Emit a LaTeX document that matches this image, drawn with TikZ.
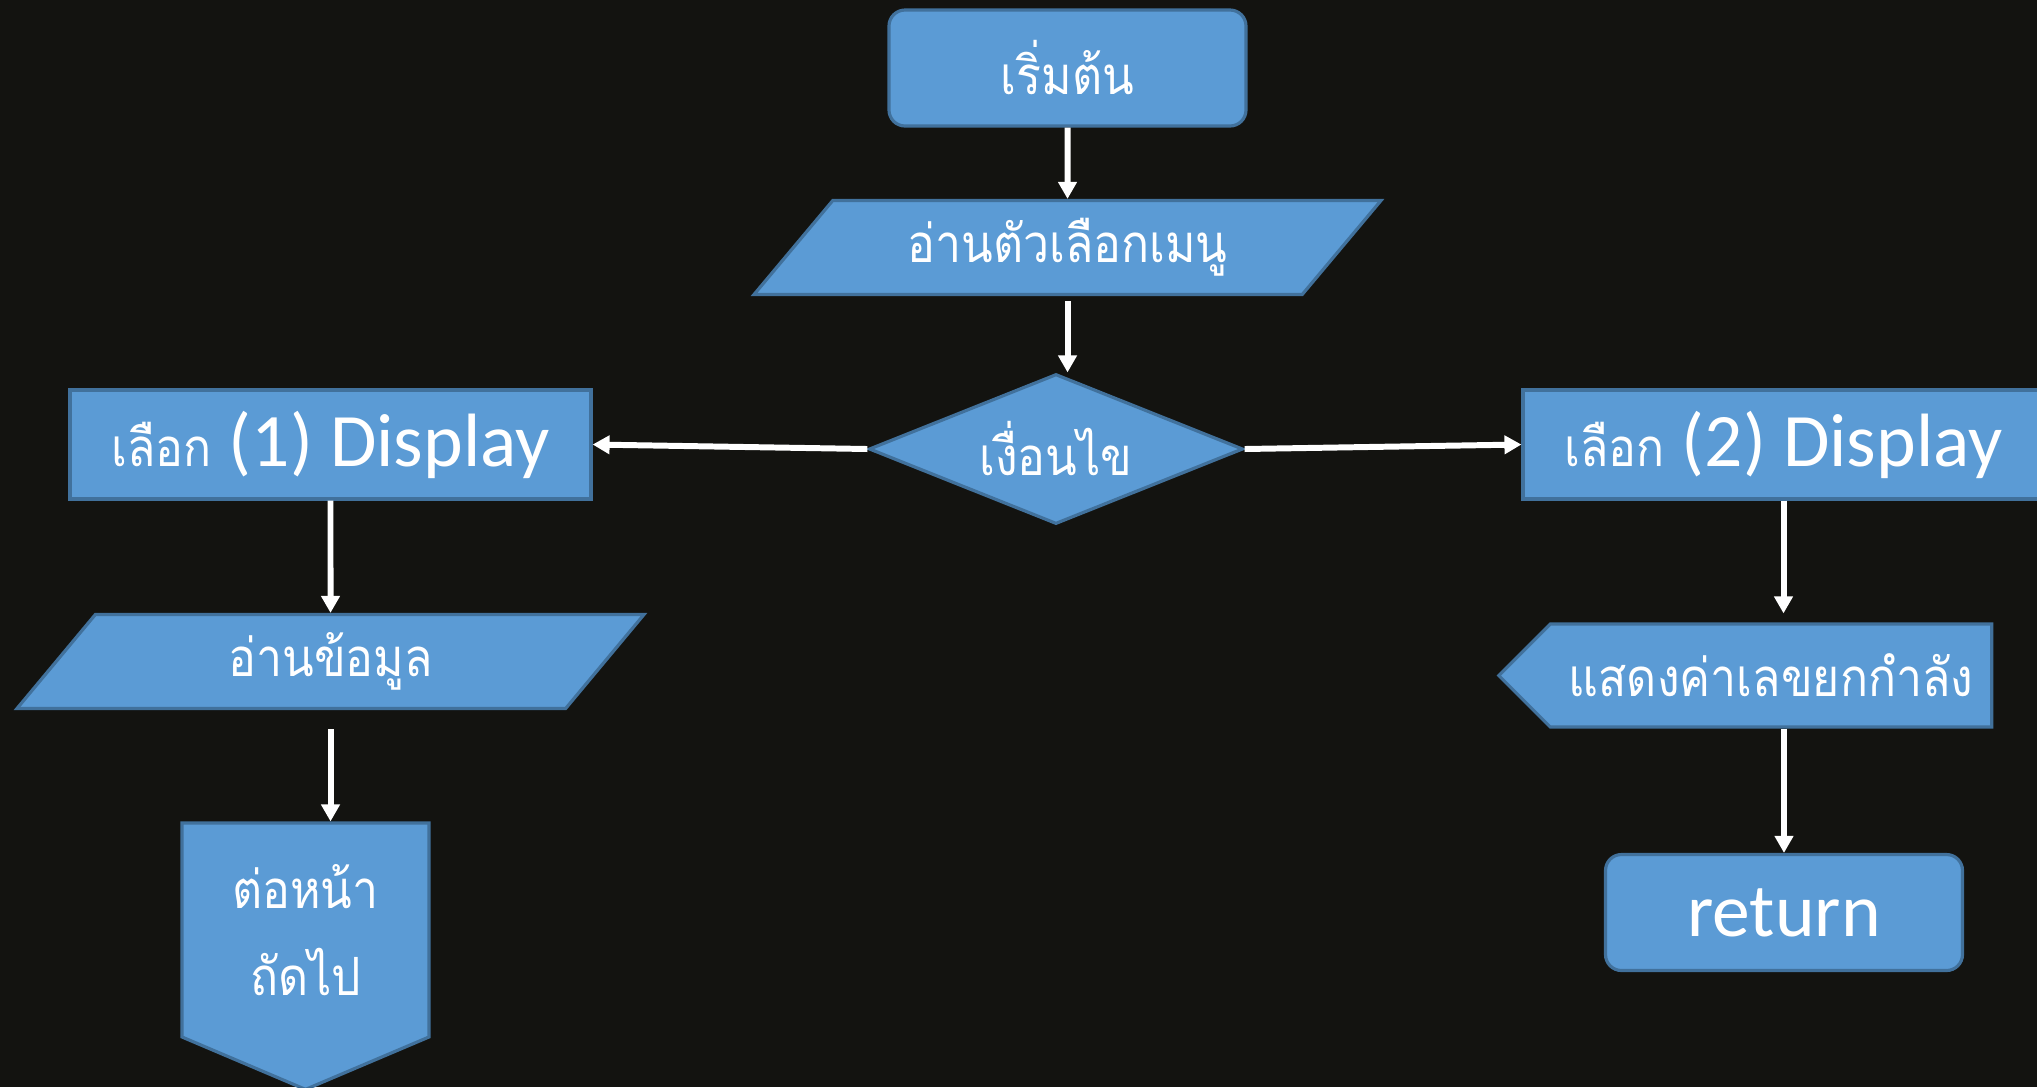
\documentclass[tikz,border=0pt]{standalone}
\usepackage{fontspec}
\setmainfont{Carlito}
\newfontfamily\thaifont[Script=Thai,FakeStretch=0.88]{Loma}
\usetikzlibrary{positioning,shapes.geometric,shapes.symbols,arrows.meta}
\definecolor{boxfill}{HTML}{5B9BD5}
\definecolor{boxline}{HTML}{41719C}
\definecolor{bgdark}{HTML}{131310}
\newcommand{\thaismall}[1]{{\thaifont\fontsize{15}{18}\selectfont #1}}

\begin{document}
\begin{tikzpicture}[>={Triangle[length=0.17cm,width=0.18cm]},node distance=2cm,
    base node/.style={draw=boxline,fill=boxfill,line width=0.9pt,text=white,inner sep=0pt,font=\fontsize{21.5}{26}\selectfont},
    thai text/.style={font=\thaifont\fontsize{15}{24.7}\selectfont},
    start node/.style={base node,rectangle,rounded corners=0.16cm,minimum width=3.57cm,minimum height=1.16cm},
    io node/.style={base node,thai text,trapezium,trapezium left angle=36.4,trapezium right angle=143.6,trapezium stretches body=true,minimum width=6.27cm,minimum height=0.94cm},
    decision node/.style={base node,thai text,diamond,aspect=2.49,minimum width=3.74cm,minimum height=1.5cm},
    process node/.style={base node,rectangle,minimum width=5.21cm,minimum height=1.09cm},
    page node/.style={base node,thai text,signal,signal to=south,signal pointer angle=134,minimum width=2.47cm,minimum height=2.45cm,align=center},
    show node/.style={base node,thai text,signal,signal to=west,signal pointer angle=90,minimum width=4.93cm,minimum height=1.03cm},
    flow line/.style={->,draw=white,line width=1.7pt}]
    \useasboundingbox (0,0) rectangle (20.37,-10.87);
    \fill[bgdark] (0,0) rectangle (20.37,-10.87);

    \node[start node,thai text] (1) at (10.675,-0.68) {เริ่มต้น};
    \node[io node] (2) [below of=1,node distance=1.795cm] {อ่านตัวเลือกเมนู};
    \node[decision node] (3) at (10.56,-4.49) {เงื่อนไข};
    \node[process node] (4) at (3.305,-4.445) {\thaismall{เลือก} (1) Display};
    \node[process node] (5) at (17.835,-4.445) {\thaismall{เลือก} (2) Display};
    \node[io node] (6) [below of=4,node distance=2.17cm] {อ่านข้อมูล};
    \node[page node] (7) at (3.055,-9.3) {ต่อหน้า\\ถัดไป};
    \node[show node] (8) at (17.71,-6.755) {แสดงค่าเลขยกกำลัง};
    \node[start node] (9) at (17.84,-9.125) {return};

    \path[every edge/.style={flow line}]
        (1) edge (2)
        (2.south) edge[shorten <=0.05cm] (2.south |- 3.north)
        (3.west) edge (4.east)
        (3.east) edge (5.west)
        (4) edge (6)
        (6.south) edge[shorten <=0.19cm] (6.south |- 7.north)
        (5.south) edge[shorten >=0.09cm] (5.south |- 8.north)
        (9.north |- 8.south) edge (9.north)
        ;
\end{tikzpicture}
\end{document}
